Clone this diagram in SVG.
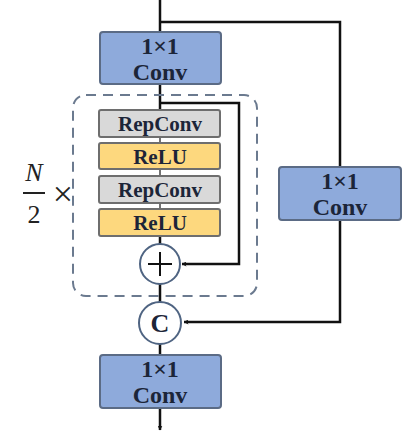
<svg xmlns="http://www.w3.org/2000/svg" width="411" height="432" viewBox="0 0 411 432">
<style>
.conv{fill:#8eaadb;stroke:#5b6b85;stroke-width:2}
.rep{fill:#d9d9d9;stroke:#6e6e6e;stroke-width:2}
.relu{fill:#fdd87e;stroke:#6e6e6e;stroke-width:2}
.t{font-family:"Liberation Serif",serif;font-weight:bold;fill:#1c2538;text-anchor:middle}
.c24{font-size:24px}
.c21{font-size:21px}
.circ{fill:#fff;stroke:#4f6482;stroke-width:2}
.ln{fill:none;stroke:#111;stroke-width:2.5}
.m{font-family:"Liberation Serif",serif;fill:#222;text-anchor:middle}
</style>
<defs>
<marker id="ah" viewBox="0 0 10 10" refX="9" refY="5" markerWidth="5" markerHeight="5" orient="auto-start-reverse" markerUnits="userSpaceOnUse">
<path d="M0,0 L10,5 L0,10 L3,5 z" fill="#111"/>
</marker>
</defs>
<rect width="411" height="432" fill="#fff"/>
<g id="connectors">
<path class="ln" d="M160,0 V32"/>
<path class="ln" d="M160,22 H340 V322 H184" marker-end="url(#ah)"/>
<path class="ln" d="M160,84 V110"/>
<path class="ln" d="M160,103 H239 V264 H182" marker-end="url(#ah)"/>
<path class="ln" d="M160,236 V244" stroke-width="2"/>
<path class="ln" d="M160,284 V302"/>
<path class="ln" d="M160,343 V355"/>
<path class="ln" d="M160,408 V430" marker-end="url(#ah)"/>
<path d="M160,137 V143 M160,169 V176 M160,203 V209" stroke="#444" stroke-width="1.5"/>
</g>
<g id="repeat">
<rect x="73" y="95" width="184" height="201" rx="13" fill="none" stroke="#6b7a8f" stroke-width="2" stroke-dasharray="10,7"/>
<text class="m" x="34" y="181" font-style="italic" font-size="26">N</text>
<line x1="23" y1="193" x2="45" y2="193" stroke="#222" stroke-width="2"/>
<text class="m" x="34" y="223" font-size="26">2</text>
<text class="m" x="63" y="206" font-size="36">×</text>
</g>
<g id="conv1">
<rect class="conv" x="100" y="32" width="121" height="52" rx="3"/>
<text class="t c24" x="160" y="54">1×1</text>
<text class="t c24" x="160" y="80">Conv</text>
</g>
<g id="repconv1">
<rect class="rep" x="99" y="110" width="121" height="27" rx="2"/>
<text class="t c21" x="160" y="131">RepConv</text>
</g>
<g id="relu1">
<rect class="relu" x="99" y="143" width="121" height="26" rx="2"/>
<text class="t c21" x="160" y="164">ReLU</text>
</g>
<g id="repconv2">
<rect class="rep" x="99" y="176" width="121" height="27" rx="2"/>
<text class="t c21" x="160" y="197">RepConv</text>
</g>
<g id="relu2">
<rect class="relu" x="99" y="209" width="121" height="27" rx="2"/>
<text class="t c21" x="160" y="230">ReLU</text>
</g>
<g id="add">
<circle class="circ" cx="160" cy="264" r="20"/>
<path d="M148,264 H172 M160,252 V276" stroke="#111" stroke-width="2"/>
</g>
<g id="concat">
<circle class="circ" cx="160" cy="323" r="21"/>
<text class="t" x="160" y="332" font-size="26">C</text>
</g>
<g id="conv2">
<rect class="conv" x="279" y="167" width="122" height="53" rx="3"/>
<text class="t c24" x="340" y="189">1×1</text>
<text class="t c24" x="340" y="215">Conv</text>
</g>
<g id="conv3">
<rect class="conv" x="100" y="355" width="121" height="53" rx="3"/>
<text class="t c24" x="160" y="377">1×1</text>
<text class="t c24" x="160" y="403">Conv</text>
</g>
</svg>
